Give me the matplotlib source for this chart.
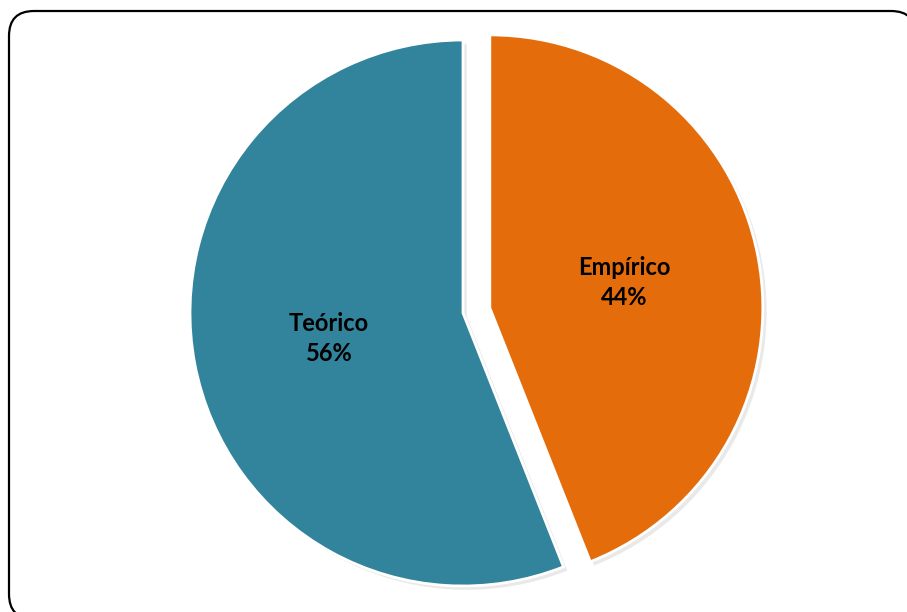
import matplotlib
matplotlib.use("Agg")
import matplotlib.pyplot as plt
from matplotlib.patches import FancyBboxPatch, Shadow
from matplotlib.transforms import IdentityTransform

# Distribution of study types
categories = ["Empírico", "Teórico"]
shares = [44, 56]
colors = ["#E46C0A", "#31849B"]
explode = [0.1, 0.0]

W, H = 907, 612          # figure size in pixels
R_PX = 273               # pie radius in pixels
CX, CY = 463, 313        # pie centre in pixels (from top-left)

fig = plt.figure(figsize=(W / 100, H / 100), dpi=100)
ax = fig.add_axes([0, 0, 1, 1])
ax.axis("off")

wedges, texts = ax.pie(
    shares,
    colors=colors,
    explode=explode,
    startangle=90,
    counterclock=False,
    labels=[f"{c}\n{v}%" for c, v in zip(categories, shares)],
    labeldistance=0.5,
    wedgeprops=dict(edgecolor="white", linewidth=2),
    textprops=dict(fontsize=17, fontweight="bold", color="black",
                   family=["Lato", "DejaVu Sans"], ha="center", va="center",
                   linespacing=1.35),
)

# soft drop shadow under each slice
for w in wedges:
    sh = Shadow(w, 0.01, -0.01, facecolor="#c0c0c0", edgecolor="none", alpha=0.35)
    sh.set_zorder(w.get_zorder() - 0.5)
    ax.add_patch(sh)

# one data unit = one pie radius; map the whole figure onto data coords
ax.set_aspect("auto")
ax.set_xlim(-CX / R_PX, (W - CX) / R_PX)
ax.set_ylim(-(H - CY) / R_PX, CY / R_PX)

# rounded outer frame, in pixel units (origin bottom-left); filled white and
# drawn beneath the axes so Agg does not clip it as a bare outline
x0, y0, x1, y1 = 9, 11, 916, 619
frame = FancyBboxPatch(
    (x0, H - y1), x1 - x0, y1 - y0,
    boxstyle="round,pad=0,rounding_size=25",
    transform=IdentityTransform(),
    facecolor="white", edgecolor="black", linewidth=1.6, zorder=-1,
)
fig.patches.append(frame)
frame.set_figure(fig)

fig.savefig("out.png", dpi=100, facecolor="white")
